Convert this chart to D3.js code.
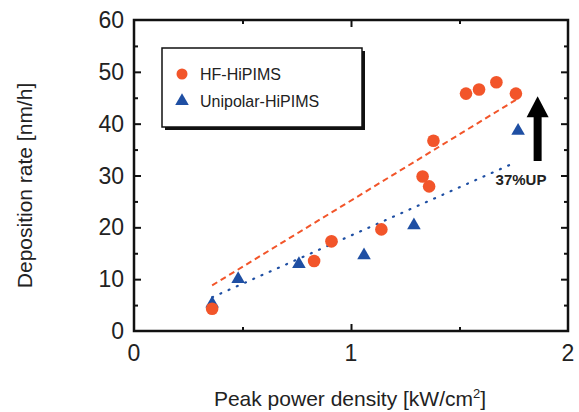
<!DOCTYPE html>
<html lang="en">
<head>
<meta charset="UTF-8"/>
<title>Deposition rate vs peak power density</title>
<script src="https://d3js.org/d3.v7.min.js"></script>
<style>
	body{ margin:0; background:#fff; }
	text{ font-family: "Liberation Sans", Arial, Helvetica, sans-serif; fill:#222; }
</style>
</head>
<body>
<script>
// data
var hfX = [0.36, 0.83, 0.91, 1.14, 1.33, 1.36, 1.38, 1.53, 1.59, 1.67, 1.76];
var hfY = [4.3, 13.5, 17.3, 19.6, 29.8, 27.9, 36.7, 45.8, 46.6, 48.0, 45.8];
var uniX = [0.36, 0.48, 0.76, 1.06, 1.29, 1.77];
var uniY = [5.3, 10.0, 12.9, 14.6, 20.4, 38.6];
var hfFitX = [0.36, 1.76];
var hfFitY = [8.8, 44.6];
var uniFitX = [0.36, 1.74];
var uniFitY = [6.5, 32.2];
var xTicks = [0, 1, 2];
var yTicks = [0, 10, 20, 30, 40, 50, 60];
var arrowX = 1.86, arrowFrom = 32.8, arrowTo = 45.3;

var w = 579, h = 412;
var pLeft = 134, pRight = 568, pTop = 20, pBottom = 331;

var x = d3.scaleLinear().domain([0, 2]).range([pLeft, pRight]);
var y = d3.scaleLinear().domain([0, 60]).range([pBottom, pTop]);

var orange = "#f2552a", blue = "#1f4fa3";

var svg = d3.select("body").append("svg")
	.attr("width", w).attr("height", h);

// frame with inward ticks
function styleAxis(g){
	g.select(".domain").remove();
	g.selectAll("line").attr("stroke", "#111").attr("stroke-width", 2);
}
svg.append("g").attr("transform", "translate(0," + pBottom + ")")
	.call(d3.axisTop(x).tickValues([0.5, 1.5]).tickSize(4).tickFormat(""))
	.call(styleAxis);
svg.append("g").attr("transform", "translate(0," + pBottom + ")")
	.call(d3.axisTop(x).tickValues([1]).tickSize(7).tickFormat(""))
	.call(styleAxis);
svg.append("g").attr("transform", "translate(0," + pTop + ")")
	.call(d3.axisBottom(x).tickValues([0.5, 1.5]).tickSize(4).tickFormat(""))
	.call(styleAxis);
svg.append("g").attr("transform", "translate(0," + pTop + ")")
	.call(d3.axisBottom(x).tickValues([1]).tickSize(7).tickFormat(""))
	.call(styleAxis);
svg.append("g").attr("transform", "translate(" + pLeft + ",0)")
	.call(d3.axisRight(y).tickValues(d3.range(5, 60, 10)).tickSize(4).tickFormat(""))
	.call(styleAxis);
svg.append("g").attr("transform", "translate(" + pLeft + ",0)")
	.call(d3.axisRight(y).tickValues(d3.range(10, 60, 10)).tickSize(7).tickFormat(""))
	.call(styleAxis);
svg.append("g").attr("transform", "translate(" + pRight + ",0)")
	.call(d3.axisLeft(y).tickValues(d3.range(5, 60, 10)).tickSize(4).tickFormat(""))
	.call(styleAxis);
svg.append("g").attr("transform", "translate(" + pRight + ",0)")
	.call(d3.axisLeft(y).tickValues(d3.range(10, 60, 10)).tickSize(7).tickFormat(""))
	.call(styleAxis);

svg.append("rect")
	.attr("x", pLeft).attr("y", pTop)
	.attr("width", pRight - pLeft).attr("height", pBottom - pTop)
	.attr("fill", "none").attr("stroke", "#111").attr("stroke-width", 2.5);

// tick labels
svg.selectAll(".xl").data(xTicks).enter().append("text")
	.attr("x", function(d){ return x(d); })
	.attr("y", pBottom + 30)
	.attr("text-anchor", "middle")
	.style("font-size", "23px")
	.text(function(d){ return d; });
svg.selectAll(".yl").data(yTicks).enter().append("text")
	.attr("x", pLeft - 10)
	.attr("y", function(d){ return y(d) + 8; })
	.attr("text-anchor", "end")
	.style("font-size", "23px")
	.text(function(d){ return d; });

// axis titles
var xt = svg.append("text")
	.attr("x", 350).attr("y", 406)
	.attr("text-anchor", "middle")
	.style("font-size", "21px");
xt.append("tspan").text("Peak power density [kW/cm");
xt.append("tspan").attr("dy", -8).style("font-size", "13px").text("2");
xt.append("tspan").attr("dy", 8).text("]");

svg.append("text")
	.attr("transform", "translate(32," + ((pTop + pBottom) / 2 + 10) + ") rotate(-90)")
	.attr("text-anchor", "middle")
	.style("font-size", "21px")
	.text("Deposition rate [nm/h]");

// fit lines
var line = d3.line().x(function(d){ return x(d[0]); }).y(function(d){ return y(d[1]); });
svg.append("path")
	.attr("d", line(d3.zip(hfFitX, hfFitY)))
	.attr("fill", "none").attr("stroke", orange).attr("stroke-width", 2)
	.attr("stroke-dasharray", "6,4");
svg.append("path")
	.attr("d", line(d3.zip(uniFitX, uniFitY)))
	.attr("fill", "none").attr("stroke", blue).attr("stroke-width", 2.2)
	.attr("stroke-dasharray", "1,8").attr("stroke-linecap", "round");

// points
var tri = d3.symbol().type(d3.symbolTriangle).size(80);
svg.selectAll(".uni").data(d3.zip(uniX, uniY)).enter().append("path")
	.attr("d", tri)
	.attr("transform", function(d){ return "translate(" + x(d[0]) + "," + y(d[1]) + ")"; })
	.attr("fill", blue);
svg.selectAll(".hf").data(d3.zip(hfX, hfY)).enter().append("circle")
	.attr("cx", function(d){ return x(d[0]); })
	.attr("cy", function(d){ return y(d[1]); })
	.attr("r", 6.3)
	.attr("fill", orange);

// arrow
var ax = x(arrowX);
svg.append("rect")
	.attr("x", ax - 4).attr("y", y(arrowTo) + 18)
	.attr("width", 8).attr("height", y(arrowFrom) - y(arrowTo) - 18)
	.attr("fill", "#000");
svg.append("path")
	.attr("d", "M" + (ax - 11) + "," + (y(arrowTo) + 21) + "L" + ax + "," + y(arrowTo) + "L" + (ax + 11) + "," + (y(arrowTo) + 21) + "Z")
	.attr("fill", "#000");
svg.append("text")
	.attr("x", 521).attr("y", 185)
	.attr("text-anchor", "middle")
	.style("font-size", "15px").style("font-weight", "bold")
	.text("37%UP");

// legend
svg.append("rect")
	.attr("x", 165).attr("y", 51).attr("width", 200).attr("height", 79)
	.attr("fill", "#111");
svg.append("rect")
	.attr("x", 162).attr("y", 48).attr("width", 200).attr("height", 79)
	.attr("fill", "#fff").attr("stroke", "#111").attr("stroke-width", 1.5);
svg.append("circle").attr("cx", 182).attr("cy", 74).attr("r", 5.5).attr("fill", orange);
svg.append("path").attr("d", tri)
	.attr("transform", "translate(182,101)").attr("fill", blue);
svg.append("text").attr("x", 200).attr("y", 80).style("font-size", "16px").text("HF-HiPIMS");
svg.append("text").attr("x", 200).attr("y", 107).style("font-size", "16px").text("Unipolar-HiPIMS");
</script>
</body>
</html>
